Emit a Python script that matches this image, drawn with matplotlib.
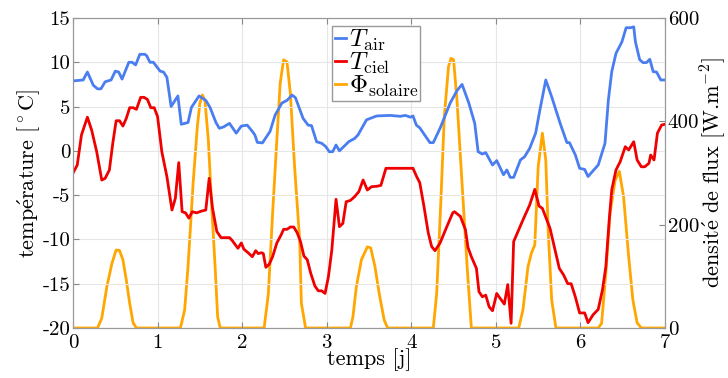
import matplotlib
matplotlib.use("Agg")
import matplotlib.pyplot as plt

plt.rcParams['font.family'] = 'serif'
plt.rcParams['font.serif'] = ['cmr10']
plt.rcParams['mathtext.fontset'] = 'cm'
plt.rcParams['axes.unicode_minus'] = False
plt.rcParams['axes.formatter.use_mathtext'] = False

# T_air [degC]
t_air = [0.00, 0.12, 0.17, 0.24, 0.29, 0.33, 0.38, 0.45, 0.50, 0.54, 0.58, 0.66, 0.70,
         0.74, 0.79, 0.85, 0.87, 0.91, 0.95, 1.03, 1.07, 1.11, 1.16, 1.24, 1.28, 1.36,
         1.40, 1.49, 1.57, 1.62, 1.69, 1.73, 1.78, 1.85, 1.93, 1.99, 2.06, 2.12, 2.15,
         2.18, 2.24, 2.33, 2.39, 2.47, 2.53, 2.59, 2.63, 2.72, 2.78, 2.82, 2.88, 2.94,
         2.99, 3.03, 3.07, 3.11, 3.15, 3.20, 3.26, 3.33, 3.37, 3.47, 3.59, 3.75, 3.87,
         3.93, 3.99, 4.02, 4.06, 4.10, 4.22, 4.26, 4.34, 4.46, 4.54, 4.60, 4.68, 4.75,
         4.79, 4.84, 4.88, 4.96, 5.01, 5.09, 5.13, 5.17, 5.21, 5.29, 5.34, 5.40, 5.47,
         5.52, 5.59, 5.66, 5.76, 5.84, 5.87, 5.94, 5.99, 6.05, 6.09, 6.14, 6.21, 6.29,
         6.33, 6.37, 6.42, 6.49, 6.54, 6.59, 6.63, 6.65, 6.70, 6.74, 6.78, 6.82, 6.86,
         6.90, 6.95, 7.00]
T_air = [7.9, 8.0, 8.9, 7.4, 7.0, 7.0, 7.8, 8.0, 9.0, 8.9, 8.1, 10.0, 10.0,
         9.7, 10.9, 10.9, 10.75, 10.0, 10.0, 9.0, 8.9, 8.3, 5.0, 6.2, 3.0, 3.2,
         4.9, 6.2, 5.7, 4.9, 3.2, 2.55, 2.7, 3.1, 2.0, 2.8, 2.9, 2.2, 1.8,
         0.95, 0.9, 2.2, 4.05, 5.4, 5.7, 6.3, 6.0, 3.67, 2.9, 2.85, 1.03, 0.85,
         0.47, -0.1, -0.1, 0.66, 0.0, 0.47, 1.03, 1.4, 1.8, 3.5, 3.94, 4.0, 3.9,
         4.0, 3.8, 3.94, 2.9, 2.6, 0.93, 0.93, 2.55, 5.4, 6.8, 7.5, 5.4, 3.1,
         -0.1, -0.36, -0.2, -1.6, -1.1, -2.7, -2.16, -3.0, -3.0, -1.03, -0.66, 0.29, 2.0,
         4.6, 8.0, 6.1, 3.1, 0.93, 0.93, -0.47, -1.97, -2.1, -2.9, -2.35, -1.6, 0.85,
         5.74, 8.94, 11.0, 12.3, 13.9, 13.9, 14.0, 12.3, 10.3, 9.96, 9.96, 10.34, 8.94,
         8.9, 8.0, 8.0]

# T_ciel [degC]
t_ciel = [0.00, 0.05, 0.10, 0.17, 0.22, 0.28, 0.34, 0.38, 0.43, 0.47, 0.51, 0.55, 0.59,
          0.63, 0.67, 0.71, 0.75, 0.80, 0.84, 0.88, 0.92, 0.96, 1.00, 1.05, 1.11, 1.17,
          1.21, 1.25, 1.29, 1.33, 1.37, 1.41, 1.46, 1.52, 1.57, 1.61, 1.65, 1.70, 1.75,
          1.80, 1.85, 1.88, 1.95, 1.99, 2.02, 2.07, 2.12, 2.16, 2.19, 2.23, 2.25, 2.28,
          2.32, 2.36, 2.41, 2.46, 2.49, 2.53, 2.57, 2.61, 2.65, 2.69, 2.73, 2.77, 2.81,
          2.86, 2.90, 2.94, 2.98, 3.02, 3.06, 3.11, 3.15, 3.19, 3.23, 3.28, 3.33, 3.38,
          3.43, 3.48, 3.53, 3.59, 3.64, 3.70, 3.81, 3.93, 4.02, 4.06, 4.10, 4.15, 4.20,
          4.24, 4.28, 4.34, 4.42, 4.49, 4.51, 4.58, 4.64, 4.67, 4.71, 4.77, 4.80, 4.84,
          4.88, 4.92, 4.96, 5.01, 5.05, 5.10, 5.14, 5.18, 5.21, 5.27, 5.32, 5.40, 5.46,
          5.51, 5.55, 5.64, 5.70, 5.75, 5.80, 5.85, 5.89, 5.94, 5.99, 6.05, 6.09, 6.15,
          6.21, 6.26, 6.30, 6.34, 6.37, 6.42, 6.47, 6.53, 6.57, 6.63, 6.67, 6.72, 6.76,
          6.81, 6.83, 6.87, 6.91, 6.96, 7.00]
T_ciel = [-2.5, -1.6, 1.8, 3.8, 2.35, -0.1, -3.3, -3.1, -2.16, 0.85, 3.4, 3.4, 2.8,
          3.67, 4.87, 4.87, 4.69, 6.04, 6.04, 5.8, 4.87, 4.87, 3.86, -0.1, -2.9, -6.68,
          -5.36, -1.33, -6.87, -7.0, -7.6, -6.87, -7.0, -6.8, -6.68, -3.1, -6.5, -9.1, -9.8,
          -9.8, -9.8, -10.1, -11.0, -10.4, -11.1, -11.5, -11.95, -11.27, -11.6, -11.5, -11.6, -13.15,
          -12.8, -11.95, -10.4, -9.5, -8.86, -8.86, -8.6, -8.6, -9.24, -10.25, -11.87, -12.3, -13.8,
          -15.26, -15.8, -15.8, -16.1, -14.2, -11.2, -5.47, -8.56, -8.2, -5.74, -5.6, -5.17, -4.6,
          -3.29, -4.42, -4.05, -4.0, -3.9, -1.97, -1.97, -1.97, -1.97, -2.84, -3.6, -6.3, -9.24,
          -10.8, -11.27, -10.4, -8.56, -7.0, -6.87, -7.4, -8.9, -10.9, -11.95, -13.27, -15.9, -16.47,
          -16.3, -17.6, -18.05, -16.1, -16.65, -17.3, -15.1, -19.47, -10.25, -8.9, -7.8, -6.1, -4.35,
          -6.23, -6.5, -8.74, -11.2, -13.27, -14.0, -15.0, -15.0, -16.5, -18.3, -18.3, -19.4, -18.5,
          -17.9, -15.7, -13.1, -7.8, -4.4, -2.16, -1.22, 0.47, 0.1, 1.03, -1.03, -1.8, -1.8,
          -1.4, -0.47, -1.03, 2.0, 2.92, 3.0]

# Phi_solaire [W.m-2]
t_sol = [0.00, 0.29, 0.34, 0.40, 0.46, 0.51, 0.55, 0.59, 0.63, 0.67, 0.71, 0.75,
         1.27, 1.32, 1.36, 1.42, 1.47, 1.50, 1.53, 1.56, 1.60, 1.64, 1.68, 1.71, 1.74,
         2.26, 2.31, 2.36, 2.41, 2.45, 2.49, 2.53, 2.57, 2.62, 2.68, 2.70, 2.75,
         3.28, 3.31, 3.35, 3.41, 3.48, 3.52, 3.57, 3.62, 3.68, 3.72,
         4.26, 4.30, 4.35, 4.39, 4.44, 4.47, 4.50, 4.54, 4.60, 4.66, 4.71,
         5.27, 5.32, 5.38, 5.42, 5.46, 5.50, 5.55, 5.59, 5.62, 5.66, 5.71,
         6.21, 6.25, 6.30, 6.35, 6.41, 6.46, 6.51, 6.57, 6.62, 6.67, 6.72, 7.00]
Phi_sol = [0, 0, 19, 80, 125, 151, 150, 132, 93, 48, 10, 0,
           0, 35, 119, 280, 390, 435, 451, 440, 364, 235, 119, 22, 0,
           0, 67, 222, 364, 474, 519, 515, 454, 312, 170, 48, 0,
           0, 22, 80, 132, 157, 155, 119, 67, 15, 0,
           0, 67, 248, 409, 506, 522, 519, 441, 280, 119, 0,
           0, 35, 119, 145, 161, 312, 377, 325, 183, 54, 0,
           0, 9, 106, 222, 286, 303, 254, 138, 54, 10, 0, 0]

E = r'$\mathrm{\acute{e}}$'  # cmr10 has no accented glyphs

fig = plt.figure(figsize=(7.28, 3.78), dpi=100)
ax = fig.add_axes([0.1003, 0.1323, 0.8132, 0.8201])
ax2 = ax.twinx()

l1, = ax.plot(t_air, T_air, color='#4a7ef0', lw=2)
l2, = ax.plot(t_ciel, T_ciel, color='#f00000', lw=2)
l3, = ax2.plot(t_sol, Phi_sol, color='#ffa600', lw=2)

ax.set_xlim(0, 7)
ax.set_ylim(-20, 15)
ax2.set_ylim(0, 600)
ax.set_yticks(range(-20, 16, 5))
ax2.set_yticks([0, 200, 400, 600])
ax.grid(True, color='#e6e6e6', lw=0.8)
ax.set_axisbelow(True)

for a in (ax, ax2):
    a.tick_params(direction='in', labelsize=15, length=4, color='#888888', pad=2)
    for s in a.spines.values():
        s.set_color('#999999')
ax.tick_params(top=True)
ax.tick_params(axis='x', pad=4.5)

ax.set_xlabel('temps [j]', fontsize=16, labelpad=-2.5)
ax.set_ylabel('temp' + E + r'rature [$^\circ$C]', fontsize=16, labelpad=0)
ax2.set_ylabel('densit' + E + r' de flux [W.m$^{-2}$]', fontsize=16, labelpad=-1)

ax.legend([l1, l2, l3], [r'$T_{\rm air}$', r'$T_{\rm ciel}$', r'$\Phi_{\rm solaire}$'],
          loc='upper left', bbox_to_anchor=(0.438, 0.975), fontsize=18,
          handlelength=0.45, handletextpad=0.1, borderpad=0.1, labelspacing=-0.1,
          fancybox=False, framealpha=1, edgecolor='#999999', borderaxespad=0)
ax.set_zorder(ax2.get_zorder() + 1)
ax.patch.set_visible(False)

plt.savefig('out.png', dpi=100)
